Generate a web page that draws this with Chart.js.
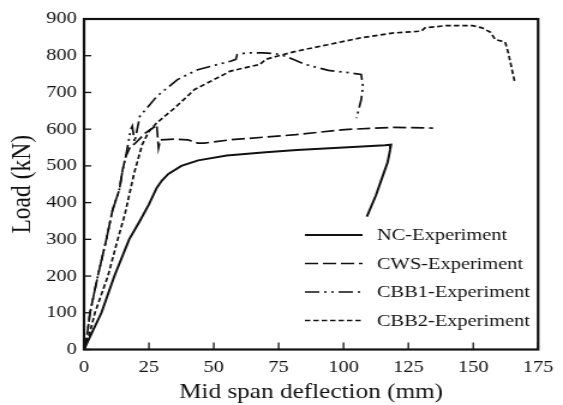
<!DOCTYPE html>
<html>
<head>
<meta charset="utf-8">
<script src="https://cdn.jsdelivr.net/npm/chart.js@4.4.1/dist/chart.umd.min.js"></script>
<style>
  html, body { margin: 0; padding: 0; background: #fff; overflow: hidden; }
  #wrap { width: 563px; height: 405px; }
</style>
</head>
<body>
<div id="wrap"><canvas id="chart" width="469" height="405" style="width:563px;height:405px;display:block"></canvas></div>
<script>
// Data (deflection in mm, load in kN)
const ncDeflection = [0, 3, 6.7, 11.7, 17.4, 21.5, 25, 28, 30, 32.5, 37.5, 44, 55, 70, 82, 100, 116, 118.3, 118, 117, 115, 112.5, 109];
const ncLoad       = [0, 45, 100, 200, 300, 350, 395, 440, 460, 478, 500, 515, 528, 537, 543, 550, 556, 558, 545, 510, 470, 420, 362];

const cwsDeflection = [0, 1, 2.3, 5.3, 8.6, 11, 13.6, 14.9, 16.1, 18, 19.5, 20.5, 23.7, 27.5, 28, 28.7, 29.4, 35, 40, 43.8, 46.4, 56.4, 81.6, 100.5, 119.4, 134.5];
const cwsLoad       = [0, 30, 100, 200, 300, 380, 435, 490, 526, 555, 560, 567, 590, 608, 612, 549, 571, 573, 571, 562, 562, 571, 585, 599, 605, 603];

const cbb1Deflection = [0, 1, 2.3, 5.3, 8.6, 11, 13.6, 14.9, 16.1, 18, 18.6, 19.5, 20.5, 21.5, 23.7, 28, 31.3, 36, 43.8, 56.4, 58.5, 59, 62.7, 69, 73.5, 77, 81, 85.4, 94.2, 103, 106.8, 107.5, 106.8, 105];
const cbb1Load       = [0, 30, 100, 200, 300, 380, 435, 490, 526, 599, 608, 565, 600, 635, 653, 689, 708, 735, 762, 785, 790, 803, 808, 808, 806, 800, 789, 776, 760, 753, 749, 717, 680, 630];

const cbb2Deflection = [0, 2, 4.2, 9.2, 13, 15.8, 19.3, 22.4, 25, 28, 35, 42.6, 56.4, 65, 67.7, 70, 74, 81.6, 94, 106.8, 119.4, 128, 130, 131.4, 139.6, 149.7, 153.4, 156.6, 158.5, 162.3, 163.5, 166];
const cbb2Load       = [0, 40, 100, 200, 300, 370, 480, 558, 594, 617, 658, 708, 758, 772, 776, 790, 798, 812, 830, 849, 862, 866, 867, 876, 882, 882, 876, 864, 844, 837, 808, 728];

const xTicks = [0, 25, 50, 75, 100, 125, 150, 175];
const yTicks = [0, 100, 200, 300, 400, 500, 600, 700, 800, 900];

const seriesNames = ['NC-Experiment', 'CWS-Experiment', 'CBB1-Experiment', 'CBB2-Experiment'];

function toPoints(xs, ys) {
  return xs.map((x, i) => ({ x: x, y: ys[i] }));
}

const serif = "'Liberation Serif', 'DejaVu Serif', serif";

function makeSet(label, xs, ys, dash, width) {
  return {
    label: label,
    data: toPoints(xs, ys),
    borderColor: '#111',
    borderWidth: width,
    borderDash: dash,
    pointRadius: 0,
    fill: false,
    tension: 0
  };
}

// Frame, inward ticks and the legend box are drawn on top of the chart
const framePlugin = {
  id: 'frame',
  afterDraw(chart) {
    const ctx = chart.ctx;
    const a = chart.chartArea;
    const xs = chart.scales.x;
    const ys = chart.scales.y;
    ctx.save();
    ctx.strokeStyle = '#111';
    ctx.setLineDash([]);
    ctx.lineWidth = 1.3;
    xTicks.forEach(v => {
      const px = xs.getPixelForValue(v);
      ctx.beginPath();
      ctx.moveTo(px, a.bottom);
      ctx.lineTo(px, a.bottom - 7);
      ctx.stroke();
    });
    ys.ticks.forEach(t => {
      const py = ys.getPixelForValue(t.value);
      ctx.beginPath();
      ctx.moveTo(a.left, py);
      ctx.lineTo(a.left + 6, py);
      ctx.stroke();
    });
    ctx.lineWidth = 2.2;
    ctx.strokeRect(a.left, a.top, a.right - a.left, a.bottom - a.top);

    // legend
    const rows = [235, 263.5, 292, 320.5];
    ctx.font = '17px ' + serif;
    ctx.fillStyle = '#111';
    ctx.textBaseline = 'middle';
    chart.data.datasets.forEach((ds, i) => {
      ctx.lineWidth = ds.borderWidth;
      ctx.setLineDash(ds.borderDash);
      ctx.beginPath();
      ctx.moveTo(254, rows[i]);
      ctx.lineTo(302, rows[i]);
      ctx.stroke();
      ctx.setLineDash([]);
      ctx.fillText(seriesNames[i], 314, rows[i] + 1);
    });
    ctx.restore();
  }
};

new Chart(document.getElementById('chart'), {
  type: 'line',
  data: {
    datasets: [
      makeSet(seriesNames[0], ncDeflection, ncLoad, [], 2),
      makeSet(seriesNames[1], cwsDeflection, cwsLoad, [11, 4], 1.7),
      makeSet(seriesNames[2], cbb1Deflection, cbb1Load, [12, 4, 2, 4, 2, 4], 1.7),
      makeSet(seriesNames[3], cbb2Deflection, cbb2Load, [4.5, 2.5], 1.7)
    ]
  },
  options: {
    responsive: false,
    devicePixelRatio: 1,
    animation: false,
    layout: { padding: { left: 5, right: 12, top: 19, bottom: 0 } },
    plugins: {
      legend: { display: false },
      tooltip: { enabled: false }
    },
    scales: {
      x: {
        type: 'linear',
        min: 0,
        max: 175,
        afterBuildTicks: s => { s.ticks = xTicks.map(v => ({ value: v })); },
        afterFit: s => { s.height = 55.5; },
        grid: { display: false, drawTicks: false },
        border: { display: false },
        ticks: { color: '#111', font: { family: serif, size: 17 }, padding: 8, maxRotation: 0 },
        title: { display: true, text: 'Mid span deflection (mm)', color: '#111', font: { family: serif, size: 21 }, padding: { top: 0, bottom: 0 } }
      },
      y: {
        min: 0,
        max: 900,
        afterBuildTicks: s => { s.ticks = yTicks.map(v => ({ value: v })); },
        afterFit: s => { s.width = 65; },
        grid: { display: false, drawTicks: false },
        border: { display: false },
        ticks: { color: '#111', font: { family: serif, size: 17 }, padding: 6 },
        title: { display: true, text: 'Load (kN)', color: '#111', font: { family: serif, size: 23.5 }, padding: { top: 0, bottom: 2 } }
      }
    }
  },
  plugins: [framePlugin]
});
</script>
</body>
</html>
